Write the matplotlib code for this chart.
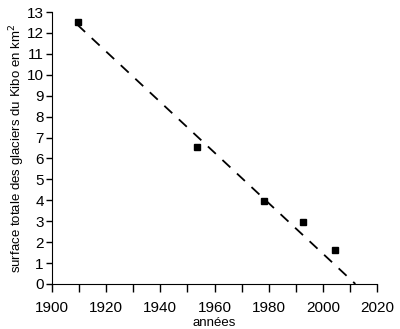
import matplotlib.pyplot as plt

plt.rcParams['font.family'] = ['Liberation Sans', 'DejaVu Sans']

years = [1909.5, 1953.4, 1978.4, 1992.5, 2004.6]
surface = [12.5, 6.56, 3.97, 2.96, 1.62]

trend_x = [1909.3, 2012]
trend_y = [12.4, 0]

fig = plt.figure(figsize=(4, 3.29), dpi=100)
ax = fig.add_axes([0.13, 0.137, 0.8125, 0.8265])

ax.plot(trend_x, trend_y, '--', color='black', linewidth=1.3, dashes=(6, 5))
ax.plot(years, surface, 's', color='black', markersize=4)

ax.set_xlim(1900, 2020)
ax.set_ylim(0, 13)
ax.set_xticks(range(1900, 2021, 20))
ax.set_xticks(range(1910, 2020, 20), minor=True)
ax.set_yticks(range(0, 14))

ax.spines['top'].set_visible(False)
ax.spines['right'].set_visible(False)
ax.tick_params(axis='x', which='both', direction='out', length=6, width=1, labelsize=11, pad=6)
ax.tick_params(axis='y', direction='out', length=4, width=1, labelsize=11, pad=2)

ax.set_xlabel('années', fontsize=9.5, labelpad=2)
ax.set_ylabel('surface totale des glaciers du Kibo en km$^2$', fontsize=9.5, labelpad=0)

fig.savefig('out.png', dpi=100)
